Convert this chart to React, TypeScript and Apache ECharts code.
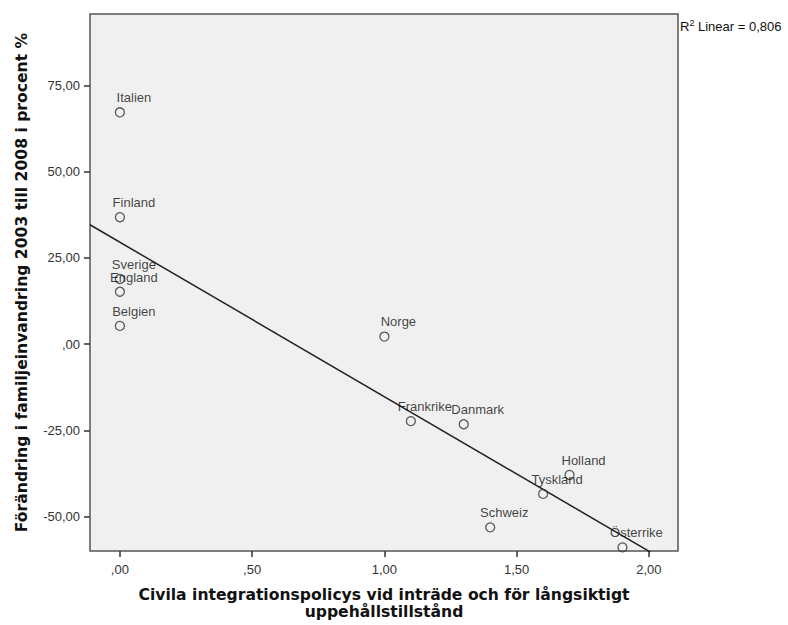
import React, { useEffect, useRef } from "react";
import * as echarts from "echarts";

const countries = ["Italien", "Finland", "Sverige", "England", "Belgien", "Norge", "Frankrike", "Danmark", "Holland", "Tyskland", "Schweiz", "Österrike"];
const policyIndex = [0, 0, 0, 0, 0, 1.0, 1.1, 1.3, 1.7, 1.6, 1.4, 1.9];
const changePct = [67.2, 36.8, 18.9, 15.2, 5.3, 2.2, -22.3, -23.2, -37.9, -43.4, -53.1, -58.9];
const xTicks = [0, 0.5, 1, 1.5, 2];
const yTicks = [-50, -25, 0, 25, 50, 75];
const r2Text = "0,806";

const X_MIN = -0.113;
const X_MAX = 2.11;
const Y_MIN = -59.95;
const Y_MAX = 95.7;

function fmt(v: number): string {
  let s = v.toFixed(2).replace(".", ",");
  if (s.startsWith("0,")) s = s.slice(1);
  if (s.startsWith("-0,")) s = "-" + s.slice(2);
  return s;
}

function regression(xs: number[], ys: number[]) {
  const n = xs.length;
  const mx = xs.reduce((a, b) => a + b, 0) / n;
  const my = ys.reduce((a, b) => a + b, 0) / n;
  let sxy = 0, sxx = 0;
  for (let i = 0; i < n; i++) {
    sxy += (xs[i] - mx) * (ys[i] - my);
    sxx += (xs[i] - mx) * (xs[i] - mx);
  }
  const b = sxy / sxx;
  const a = my - b * mx;
  return { a, b };
}

export default function App() {
  const ref = useRef<HTMLDivElement>(null);
  useEffect(() => {
    if (!ref.current) return;
    const chart = echarts.init(ref.current, undefined, { renderer: "svg" });
    const { a, b } = regression(policyIndex, changePct);
    const lineData = [
      [X_MIN, a + b * X_MIN],
      [X_MAX, a + b * X_MAX],
    ];
    const points = countries.map((c, i) => ({ name: c, value: [policyIndex[i], changePct[i]] }));
    const font = "Arial, 'Liberation Sans', sans-serif";
    const titleFont = "'DejaVu Sans', Verdana, sans-serif";
    chart.setOption({
      animation: false,
      textStyle: { fontFamily: font },
      grid: {
        left: 90,
        top: 14,
        right: 110,
        bottom: 74,
        show: true,
        backgroundColor: "#f0f0f0",
        borderColor: "#555",
        borderWidth: 1.5,
      },
      xAxis: {
        type: "value",
        min: X_MIN,
        max: X_MAX,
        splitLine: { show: false },
        axisLine: { show: false, onZero: false },
        axisTick: { show: true, length: 6, customValues: xTicks, lineStyle: { color: "#333", width: 1.5 } },
        axisLabel: {
          customValues: xTicks,
          formatter: (v: number) => fmt(v),
          color: "#333",
          fontSize: 13,
          margin: 12,
          fontFamily: font,
        },
        name: "Civila integrationspolicys vid inträde och för långsiktigt\nuppehållstillstånd",
        nameLocation: "middle",
        nameGap: 35,
        nameTextStyle: { fontWeight: "bold", fontSize: 15.6, color: "#111", lineHeight: 17, fontFamily: titleFont },
      },
      yAxis: {
        type: "value",
        min: Y_MIN,
        max: Y_MAX,
        splitLine: { show: false },
        axisLine: { show: false, onZero: false },
        axisTick: { show: true, length: 6, customValues: yTicks, lineStyle: { color: "#333", width: 1.5 } },
        axisLabel: {
          customValues: yTicks,
          formatter: (v: number) => fmt(v),
          color: "#333",
          fontSize: 13,
          margin: 10,
          fontFamily: font,
        },
        name: "Förändring i familjeinvandring 2003 till 2008 i procent %",
        nameLocation: "middle",
        nameRotate: 90,
        nameGap: 60,
        nameTextStyle: { fontWeight: "bold", fontSize: 15.6, color: "#111", fontFamily: titleFont },
      },
      graphic: [
        {
          type: "text",
          left: 680,
          top: 18,
          style: {
            text: "{r|R}{s|2}{t| Linear = " + r2Text + "}",
            rich: {
              r: { fontSize: 13, fill: "#111", fontFamily: font, verticalAlign: "bottom" },
              s: { fontSize: 9, fill: "#111", fontFamily: font, verticalAlign: "top", padding: [0, 0, 6, 0] },
              t: { fontSize: 13, fill: "#111", fontFamily: font, verticalAlign: "bottom" },
            },
          },
        },
      ],
      series: [
        {
          type: "line",
          data: lineData,
          symbol: "none",
          clip: true,
          lineStyle: { color: "#222", width: 1.5 },
          z: 2,
          silent: true,
        },
        {
          type: "scatter",
          data: points,
          symbol: "circle",
          symbolSize: 9,
          itemStyle: { color: "rgba(240,240,240,0)", borderColor: "#333", borderWidth: 1.3 },
          label: {
            show: true,
            formatter: (p: any) => p.name,
            position: "top",
            distance: 3,
            offset: [14, 0],
            color: "#111",
            fontSize: 13,
            fontFamily: font,
          },
          z: 3,
        },
      ],
    });
    return () => chart.dispose();
  }, []);
  return <div ref={ref} style={{ width: 788, height: 625, position: "absolute", left: 0, top: 0 }} />;
}
